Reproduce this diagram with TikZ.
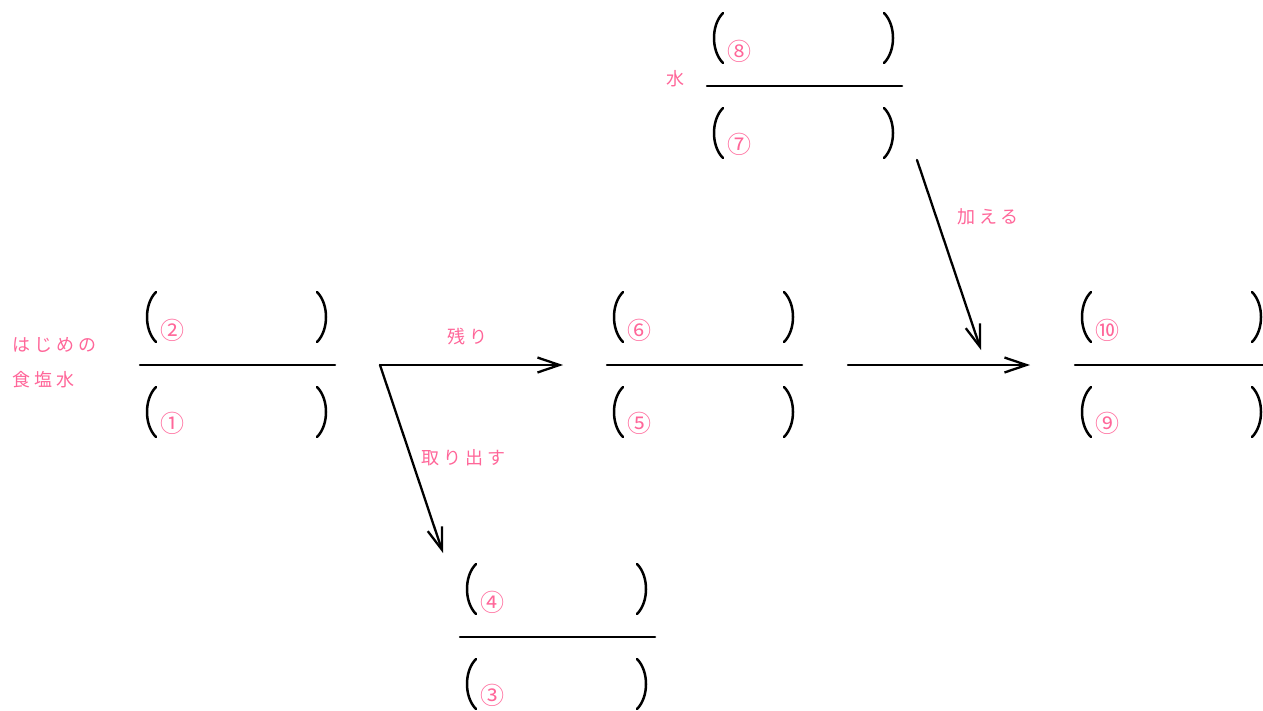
\documentclass[tikz,border=0pt]{standalone}
\usepackage{fontspec}
\setmainfont{Noto Sans CJK JP}
\newfontfamily\jpfont[LetterSpace=22]{Noto Sans CJK JP}
\usetikzlibrary{arrows.meta}
\definecolor{rosa}{RGB}{255,102,153}
\tikzset{
  fracbar/.style={line width=2.5pt, line cap=round},
  kakko/.style={line width=2.5pt, line cap=round},
  yajirushi/.style={line width=2.3pt, line cap=round, line join=round,
    -{Straight Barb[length=22pt, width=15pt, line width=2.3pt]}},
  circnum/.style={text=rosa, font=\fontsize{24}{24}\selectfont, inner sep=0pt},
  jptext/.style={text=rosa, font=\jpfont\fontsize{18}{20}\selectfont, inner sep=0pt, anchor=west},
}

\begin{document}
\begin{tikzpicture}[x=1pt, y=-1pt]
    \useasboundingbox (0,0) rectangle (1263,710);

    % 分数の枠: 名前/左端x/線のy/上の番号/下の番号
    \foreach \nm/\x/\y/\up/\dn in {hajime/140/365/②/①, nokori/607/365/⑥/⑤,
        dasu/460/637/④/③, mizu/707/86/⑧/⑦, ato/1075/365/⑩/⑨} {
        \coordinate (\nm-l) at (\x,\y);
        \coordinate (\nm-r) at (\x+195,\y);
        \draw[fracbar] (\nm-l) -- (\nm-r);
        % 上下のかっこ
        \foreach \dy in {-73,22} {
            \draw[kakko] (\x+16,\y+\dy) .. controls (\x+4,\y+\dy+12) and (\x+4,\y+\dy+38) .. (\x+16,\y+\dy+50);
            \draw[kakko] (\x+177,\y+\dy) .. controls (\x+189,\y+\dy+12) and (\x+189,\y+\dy+38) .. (\x+177,\y+\dy+50);
        }
        \node[circnum] (\nm-up) at (\x+32,\y-35) {\up};
        \node[circnum] (\nm-dn) at (\x+32,\y+58) {\dn};
    }

    % 文字
    \node[jptext] (hajime-t1) at (12,345) {はじめの};
    \node[jptext] (hajime-t2) at (12,380) {食塩水};
    \node[jptext] (mizu-t) at (666,79) {水};
    \node[jptext] (nokori-t) at (447,337) {残り};
    \node[jptext] (dasu-t) at (421,458) {取り出す};
    \node[jptext] (kuwae-t) at (957,217) {加える};

    % 矢印の端
    \coordinate (bunki) at (380,365);
    \coordinate (nokori-in) at (563,365);
    \coordinate (dasu-in) at (443,553);
    \coordinate (nokori-out) at (848,365);
    \coordinate (ato-in) at (1030,365);
    \coordinate (mizu-out) at (917,160);
    \coordinate (mizu-in) at (981,350);

    \draw[yajirushi] (bunki) -- (nokori-in);
    \draw[yajirushi] (bunki) -- (dasu-in);
    \draw[yajirushi] (nokori-out) -- (ato-in);
    \draw[yajirushi] (mizu-out) -- (mizu-in);
\end{tikzpicture}
\end{document}
